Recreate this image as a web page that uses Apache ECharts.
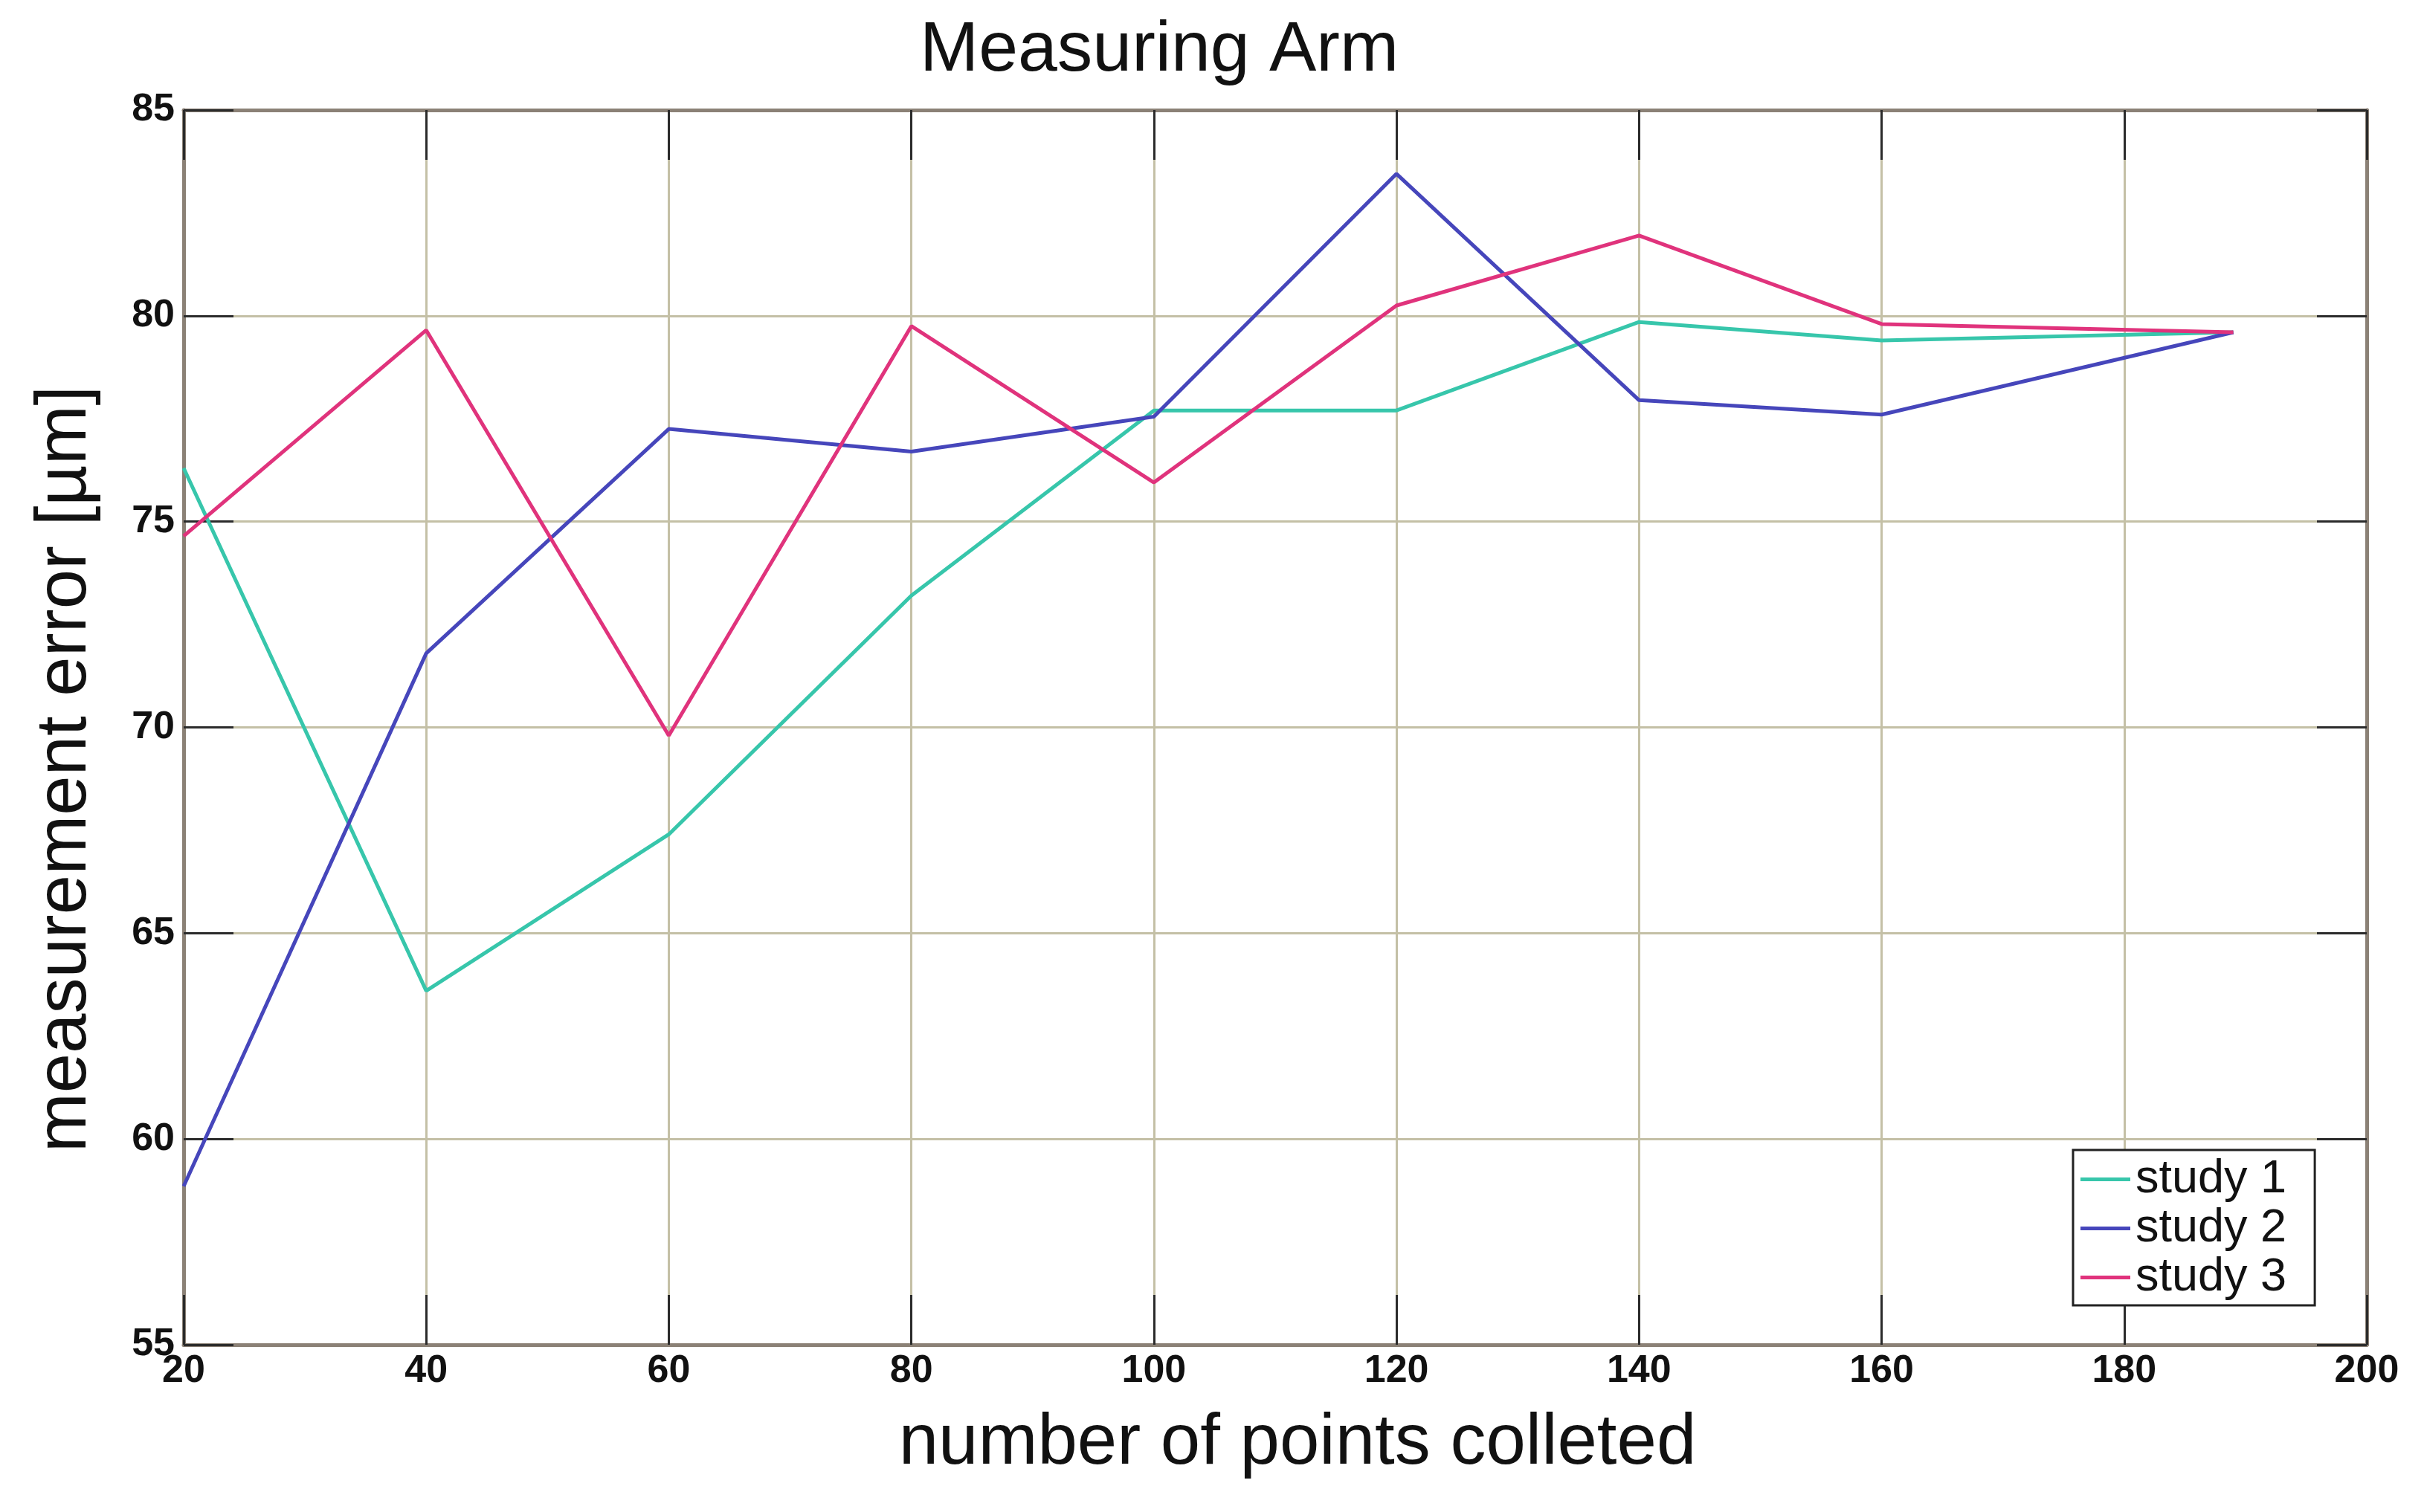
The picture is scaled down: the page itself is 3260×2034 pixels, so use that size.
<!DOCTYPE html>
<html>
<head>
<meta charset="utf-8">
<title>Measuring Arm</title>
<script src="https://cdn.jsdelivr.net/npm/echarts@6/dist/echarts.min.js"></script>
<style>
  html, body { margin: 0; padding: 0; background: #fff; }
  #chart { width: 3260px; height: 2034px; }
</style>
</head>
<body>
<div id="chart"></div>
<script>
// values
var pointsCollected = [20, 40, 60, 80, 100, 120, 140, 160, 189];
var study1 = [76.3, 63.6, 67.4, 73.2, 77.7, 77.7, 79.85, 79.4, 79.6];
var study2 = [58.85, 71.8, 77.25, 76.7, 77.55, 83.45, 77.95, 77.6, 79.6];
var study3 = [74.65, 79.65, 69.8, 79.75, 75.95, 80.25, 81.95, 79.8, 79.6];
var seriesNames = ['study 1', 'study 2', 'study 3'];
var seriesColors = ['#37c6ab', '#4646bb', '#e0337c'];

function pairs(ys) {
    var out = [];
    for (var i = 0; i < pointsCollected.length; i++) {
        out.push([pointsCollected[i], ys[i]]);
    }
    return out;
}

var font = "'Liberation Sans', Arial, Helvetica, sans-serif";
var frameLine = { show: true, onZero: false, lineStyle: { color: '#8b8176', width: 5 } };
var tick = { show: true, inside: true, length: 67, lineStyle: { color: '#2b2b2b', width: 3 } };
var gridLine = { show: true, lineStyle: { color: '#c4c0a6', width: 3 } };

var chart = echarts.init(document.getElementById('chart'));
chart.setOption({
    backgroundColor: '#fff',
    animation: false,
    title: {
        text: 'Measuring Arm',
        left: 1232,
        top: 16,
        textStyle: { fontFamily: font, fontSize: 95, fontWeight: 'normal', color: '#111' }
    },
    legend: {
        orient: 'vertical',
        left: 2788,
        top: 1547,
        padding: [8, 38, 6, 10],
        itemGap: 3,
        itemWidth: 67,
        itemHeight: 5,
        icon: 'rect',
        backgroundColor: '#fff',
        borderColor: '#222',
        borderWidth: 3,
        textStyle: { fontFamily: font, fontSize: 63, lineHeight: 60, color: '#111', padding: [0, 0, 0, 2] },
        data: seriesNames
    },
    color: seriesColors,
    grid: { left: 247, right: 77, top: 148, bottom: 225 },
    xAxis: [{
        type: 'value',
        min: 20, max: 200, interval: 20,
        position: 'bottom',
        name: 'number of points colleted',
        nameLocation: 'middle',
        nameGap: 86,
        nameTextStyle: { fontFamily: font, fontSize: 96, color: '#111', padding: [0, 0, 0, 60] },
        axisLine: frameLine,
        axisTick: tick,
        axisLabel: { fontFamily: font, fontSize: 52, fontWeight: 'bold', color: '#111', margin: 10 },
        splitLine: gridLine
    }, {
        type: 'value',
        min: 20, max: 200, interval: 20,
        position: 'top',
        axisLine: frameLine,
        axisTick: tick,
        axisLabel: { show: false },
        splitLine: { show: false }
    }],
    yAxis: [{
        type: 'value',
        min: 55, max: 85, interval: 5,
        position: 'left',
        name: 'measurement error [µm]',
        nameLocation: 'middle',
        nameGap: 110,
        nameTextStyle: { fontFamily: font, fontSize: 96, color: '#111', padding: [0, 112, 0, 0] },
        axisLine: frameLine,
        axisTick: tick,
        axisLabel: { fontFamily: font, fontSize: 52, fontWeight: 'bold', color: '#111', margin: 12 },
        splitLine: gridLine
    }, {
        type: 'value',
        min: 55, max: 85, interval: 5,
        position: 'right',
        axisLine: frameLine,
        axisTick: tick,
        axisLabel: { show: false },
        splitLine: { show: false }
    }],
    series: [
        { name: seriesNames[0], type: 'line', data: pairs(study1), symbol: 'none', lineStyle: { width: 5 } },
        { name: seriesNames[1], type: 'line', data: pairs(study2), symbol: 'none', lineStyle: { width: 5 } },
        { name: seriesNames[2], type: 'line', data: pairs(study3), symbol: 'none', lineStyle: { width: 5 } }
    ]
});
</script>
</body>
</html>
